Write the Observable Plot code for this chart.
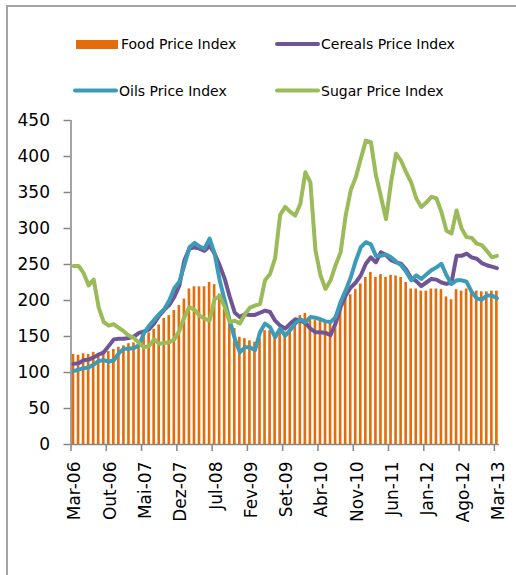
<!DOCTYPE html>
<html>
<head>
<meta charset="utf-8">
<script src="https://cdn.jsdelivr.net/npm/d3@7"></script>
<script src="https://cdn.jsdelivr.net/npm/@observablehq/plot@0.6"></script>
<style>
  html, body { margin: 0; padding: 0; background: #fff; }
  #wrap { position: relative; width: 516px; height: 575px; overflow: hidden; background: #fff; }
  #frame { position: absolute; left: 6px; top: 5px; width: 600px; height: 700px;
           border-left: 2px solid #a3a3a3; border-top: 2px solid #a3a3a3; box-sizing: border-box; }
  #legend { position: absolute; left: 0; top: 0; width: 516px; height: 110px; }
  #chart { position: absolute; left: 0; top: 110px; }
  text { font-family: "DejaVu Sans", sans-serif; }
</style>
</head>
<body>
<div id="wrap">
  <div id="frame"></div>
  <svg id="legend" width="516" height="110" font-family="DejaVu Sans" font-size="14">
    <rect x="76" y="40" width="42" height="9" fill="#E46C0A"></rect>
    <text x="121" y="48.5" fill="#000">Food Price Index</text>
    <line x1="277" y1="44" x2="318" y2="44" stroke="#6F5595" stroke-width="4" stroke-linecap="round"></line>
    <text x="321" y="48.5" fill="#000">Cereals Price Index</text>
    <line x1="75" y1="90.5" x2="116" y2="90.5" stroke="#3C9BB6" stroke-width="4" stroke-linecap="round"></line>
    <text x="119" y="95.5" fill="#000">Oils Price Index</text>
    <line x1="277" y1="90.5" x2="318" y2="90.5" stroke="#9BBB59" stroke-width="4" stroke-linecap="round"></line>
    <text x="321" y="95.5" fill="#000">Sugar Price Index</text>
  </svg>
  <div id="chart"></div>
</div>
<script>
// Categories: monthly, Mar-06 .. Mar-13 (85 months)
const monthNames = ["Jan","Fev","Mar","Abr","Mai","Jun","Jul","Ago","Set","Out","Nov","Dez"];
const months = d3.range(85).map(k => {
  const m = (2 + k) % 12;
  const y = 6 + Math.floor((2 + k) / 12);
  return monthNames[m] + "-" + String(y).padStart(2, "0");
});
const tickLabels = ["Mar-06","Out-06","Mai-07","Dez-07","Jul-08","Fev-09","Set-09","Abr-10","Nov-10","Jun-11","Jan-12","Ago-12","Mar-13"];
const yTicks = [0, 50, 100, 150, 200, 250, 300, 350, 400, 450];

const food = [125,124,126,125,128,126,127,129,132,135,137,140,141,143,149,155,160,166,175,179,
  186,193,202,216,219,219,219,225,222,209,188,175,161,149,147,144,142,147,158,158,
  151,158,156,162,170,179,182,176,172,171,171,170,178,194,205,208,215,223,232,239,
  232,236,232,235,234,232,225,216,216,213,213,216,216,215,205,201,215,213,216,213,
  213,212,212,213,213];
const cereals = [112,113,117,118,121,125,128,137,146,147,147,148,150,155,157,160,168,179,187,194,
  205,221,256,272,274,272,269,276,265,249,230,205,183,177,181,180,180,183,186,184,
  172,165,161,168,174,172,169,161,156,156,155,152,168,191,207,218,225,235,251,260,
  253,267,263,256,253,251,243,231,227,220,225,230,229,225,223,225,262,262,265,260,
  258,252,249,247,245];
const oils = [102,104,106,107,111,116,117,115,117,127,133,133,134,138,155,165,173,181,188,200,
  217,226,249,274,280,275,272,286,265,228,200,172,147,128,135,135,131,156,168,163,
  149,161,151,159,168,174,170,177,176,174,171,170,177,198,214,232,255,274,281,278,
  262,262,264,260,254,249,240,228,235,230,236,242,246,251,235,223,228,228,226,212,
  203,201,207,207,203];
const sugar = [248,248,238,221,229,190,170,165,167,162,157,151,148,141,135,137,146,140,141,142,
  146,158,177,191,187,179,175,172,202,206,191,170,172,168,181,190,193,195,228,237,
  259,319,330,323,318,334,378,364,270,235,216,228,249,267,318,353,371,397,422,420,
  374,344,313,364,404,394,378,364,342,330,336,344,342,323,297,293,325,300,288,287,
  279,277,269,260,262];

const data = months.map((m, j) => ({
  month: m, j, pos: j + 0.5,
  food: food[j], cereals: cereals[j], oils: oils[j], sugar: sugar[j]
}));
const tickPos = tickLabels.map((_, k) => k * 7);

const axisGray = "#868686";
const font = "DejaVu Sans";

const chart = Plot.plot({
  width: 516,
  height: 465,
  marginLeft: 70.5,
  marginRight: 17.1,
  marginTop: 10,
  marginBottom: 131,
  x: { type: "linear", domain: [0, 85], axis: null },
  y: { domain: [0, 450], axis: null },
  style: { fontFamily: font, background: "transparent", overflow: "visible" },
  marks: [
    Plot.rectY(data, { x1: d => d.pos - 0.26, x2: d => d.pos + 0.26, y: "food", fill: "#E46C0A" }),
    // axes
    Plot.ruleX([0], { y1: 0, y2: 450, stroke: axisGray, strokeWidth: 1.5 }),
    Plot.ruleY([0], { x1: 0, x2: 85, stroke: axisGray, strokeWidth: 1.5 }),
    Plot.ruleY(yTicks, { y: d => d, x1: 0, x2: 0, insetLeft: -7, stroke: axisGray, strokeWidth: 1.5 }),
    Plot.text(yTicks, { y: d => d, x: 0, text: d => String(d), textAnchor: "end", dx: -21,
      fontSize: 17, fontFamily: font, fill: "#000" }),
    Plot.ruleX(tickPos, { x: d => d, y1: 0, y2: 0, insetBottom: -7, stroke: axisGray, strokeWidth: 1.5 }),
    Plot.text(tickLabels, { x: (d, i) => tickPos[i] + 0.5, y: 0, text: d => d, rotate: -90,
      textAnchor: "end", dy: 17, dx: 1.5, fontSize: 17, fontFamily: font, fill: "#000" }),
    // lines
    Plot.lineY(data, { x: "pos", y: "cereals", stroke: "#6F5595", strokeWidth: 4,
      strokeLinejoin: "round", strokeLinecap: "round" }),
    Plot.lineY(data, { x: "pos", y: "oils", stroke: "#3C9BB6", strokeWidth: 4,
      strokeLinejoin: "round", strokeLinecap: "round" }),
    Plot.lineY(data, { x: "pos", y: "sugar", stroke: "#9BBB59", strokeWidth: 4,
      strokeLinejoin: "round", strokeLinecap: "round" })
  ]
});
document.getElementById("chart").appendChild(chart);
</script>
</body>
</html>
